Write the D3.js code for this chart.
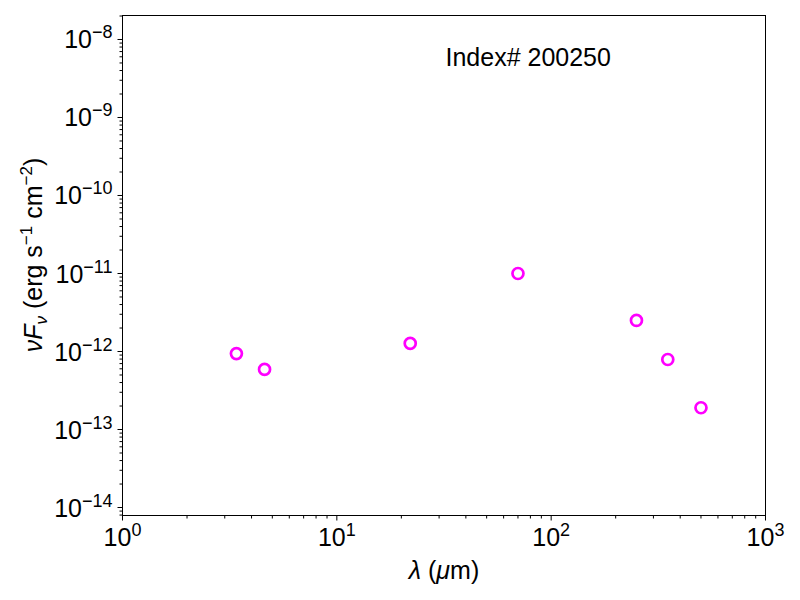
<!DOCTYPE html>
<html>
<head>
<meta charset="utf-8">
<script src="https://cdn.jsdelivr.net/npm/d3@7"></script>
<style>
  body { margin: 0; background: #fff; }
  text { font-family: "Liberation Sans", Arial, Helvetica, sans-serif; fill: #000; }
</style>
</head>
<body>
<div id="grafico"></div>
<script>
// Dados
const comprimentos = [3.4, 4.6, 22, 70, 250, 350, 500];          // lambda (um)
const fluxos = [9.4e-13, 5.9e-13, 1.27e-12, 1.0e-11, 2.5e-12, 7.9e-13, 1.9e-13];
const expoentesX = [0, 1, 2, 3];
const expoentesY = [-14, -13, -12, -11, -10, -9, -8];
const titulo = "Index# 200250";

// Configurações do gráfico
let margin = { top: 15.5, right: 34.5, bottom: 84.5, left: 122.5 };
let width = 800 - margin.left - margin.right;
let height = 600 - margin.top - margin.bottom;

let svg = d3.select('#grafico').append('svg')
    .attr('width', 800)
    .attr('height', 600)
    .append('g')
    .attr('transform', `translate(${margin.left}, ${margin.top})`);

// Escalas
let x = d3.scaleLog().domain([1, 1000]).range([0, width]);
let y = d3.scaleLog().domain([7.9e-15, 2.03e-8]).range([height, 0]);

// Ticks menores e maiores (eixo x)
let xTicks = x.ticks();
svg.append('g').selectAll('line')
    .data(xTicks)
    .join('line')
    .attr('x1', d => x(d)).attr('x2', d => x(d))
    .attr('y1', height)
    .attr('y2', d => height + (Math.abs(Math.log10(d) - Math.round(Math.log10(d))) < 1e-9 ? 5 : 3))
    .attr('stroke', '#000').attr('stroke-width', 1);

// Ticks do eixo y
let yTicks = [];
for (let e = -15; e <= -8; e++) {
    for (let m = 1; m < 10; m++) {
        let v = m * Math.pow(10, e);
        if (v >= y.domain()[0] && v <= y.domain()[1]) yTicks.push({ v: v, major: m === 1 });
    }
}
svg.append('g').selectAll('line')
    .data(yTicks)
    .join('line')
    .attr('x1', 0)
    .attr('x2', d => d.major ? -5 : -3)
    .attr('y1', d => y(d.v)).attr('y2', d => y(d.v))
    .attr('stroke', '#000').attr('stroke-width', 1);

// Rótulos do eixo x
svg.append('g').selectAll('text')
    .data(expoentesX)
    .join('text')
    .attr('x', d => x(Math.pow(10, d)))
    .attr('y', height + 30)
    .attr('text-anchor', 'middle')
    .style('font-size', '25px')
    .each(function (d) {
        let t = d3.select(this);
        t.append('tspan').text('10');
        t.append('tspan').attr('dy', -10).style('font-size', '18px').text(d);
    });

// Rótulos do eixo y
svg.append('g').selectAll('text')
    .data(expoentesY)
    .join('text')
    .attr('x', -10)
    .attr('y', d => y(Math.pow(10, d)) + 9)
    .attr('text-anchor', 'end')
    .style('font-size', '25px')
    .each(function (d) {
        let t = d3.select(this);
        t.append('tspan').text('10');
        t.append('tspan').attr('dy', -10).style('font-size', '18px').text('\u2212' + Math.abs(d));
    });

// Moldura
svg.append('rect')
    .attr('width', width).attr('height', height)
    .attr('fill', 'none').attr('stroke', '#000').attr('stroke-width', 1);

// Pontos
svg.append('g').selectAll('circle')
    .data(comprimentos)
    .join('circle')
    .attr('cx', d => x(d))
    .attr('cy', (d, i) => y(fluxos[i]))
    .attr('r', 5.5)
    .attr('fill', 'none')
    .attr('stroke', '#ff00ff')
    .attr('stroke-width', 2.7);

// Título
svg.append('text')
    .attr('x', 323)
    .attr('y', 50)
    .style('font-size', '25px')
    .text(titulo);

// Título do eixo x
let tx = svg.append('text')
    .attr('x', width / 2)
    .attr('y', height + 63)
    .attr('text-anchor', 'middle')
    .style('font-size', '25px');
tx.append('tspan').style('font-style', 'italic').text('\u03bb');
tx.append('tspan').text(' (');
tx.append('tspan').style('font-style', 'italic').text('\u03bc');
tx.append('tspan').text('m)');

// Título do eixo y
let ty = svg.append('text')
    .attr('transform', `translate(${-margin.left + 42}, ${239.5}) rotate(-90)`)
    .attr('text-anchor', 'middle')
    .style('font-size', '25px');
ty.append('tspan').style('font-style', 'italic').text('\u03bdF');
ty.append('tspan').attr('dy', 5).style('font-size', '17px').style('font-style', 'italic').text('\u03bd');
ty.append('tspan').attr('dy', -5).text(' (erg s');
ty.append('tspan').attr('dy', -10).style('font-size', '17px').text('\u22121');
ty.append('tspan').attr('dy', 10).text(' cm');
ty.append('tspan').attr('dy', -10).style('font-size', '17px').text('\u22122');
ty.append('tspan').attr('dy', 10).text(')');
</script>
</body>
</html>
